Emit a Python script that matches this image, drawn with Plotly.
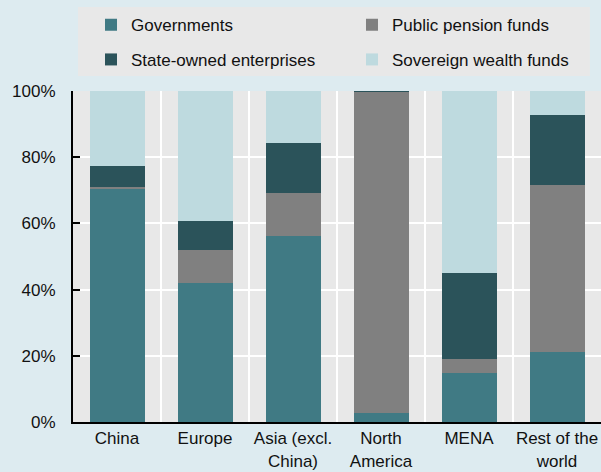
import plotly.graph_objects as go

regions = ["China", "Europe", "Asia (excl.<br>China)", "North<br>America", "MENA", "Rest of the<br>world"]
governments = [70.3, 41.9, 56.3, 2.6, 14.9, 21.2]
public_pension = [0.7, 10.1, 12.9, 97.1, 4.1, 50.4]
state_owned = [6.2, 8.7, 15.2, 0.3, 26.1, 21.2]
sovereign_wealth = [22.8, 39.3, 15.6, 0.0, 54.9, 7.2]
y_ticks = [0, 20, 40, 60, 80, 100]

x_pos = list(range(len(regions)))
font = "Liberation Sans, Arial, sans-serif"

fig = go.Figure()
fig.add_trace(go.Bar(x=x_pos, y=governments, name="Governments", marker_color="#407A84", legend="legend"))
fig.add_trace(go.Bar(x=x_pos, y=public_pension, name="Public pension funds", marker_color="#808080", legend="legend2"))
fig.add_trace(go.Bar(x=x_pos, y=state_owned, name="State-owned enterprises", marker_color="#2B535A", legend="legend3"))
fig.add_trace(go.Bar(x=x_pos, y=sovereign_wealth, name="Sovereign wealth funds", marker_color="#BEDADF", legend="legend4"))
fig.update_traces(marker_line_width=0, showlegend=True)

def leg(x, y):
    return dict(x=x, y=y, xanchor="left", yanchor="middle",
                bgcolor="rgba(0,0,0,0)", font=dict(family=font, size=17, color="#111"))

# white separators between categories
seps = [dict(type="line", xref="x", yref="paper", x0=i + 0.5, x1=i + 0.5, y0=0, y1=1,
             line=dict(color="white", width=2), layer="below") for i in range(len(regions) - 1)]

fig.update_layout(
    template="none",
    showlegend=True,
    barmode="stack",
    bargap=0.375,
    width=601, height=472,
    margin=dict(l=73, r=0, t=91, b=50),
    paper_bgcolor="#DDEBF0",
    plot_bgcolor="#E8E8E8",
    font=dict(family=font, size=17, color="#111"),
    legend=leg(0.0341, 1.199),
    legend2=leg(0.5284, 1.199),
    legend3=leg(0.0341, 1.094),
    legend4=leg(0.5284, 1.094),
    shapes=[dict(type="rect", xref="paper", yref="paper", x0=0.0095, x1=0.979, y0=1.045, y1=1.254,
                 fillcolor="#E8E8E8", line_width=0, layer="below")] + seps,
    xaxis=dict(range=[-0.5, 5.5], tickvals=x_pos, ticktext=regions, showgrid=False,
               showline=True, linecolor="#000000", linewidth=2, ticks="", zeroline=False),
    yaxis=dict(range=[0, 100], tickvals=y_ticks, ticktext=[f"{v}%" for v in y_ticks],
               showgrid=True, gridcolor="white", gridwidth=2,
               showline=True, linecolor="#000000", linewidth=2, ticks="inside", ticklen=7, tickwidth=2,
               tickcolor="#000000", zeroline=False, ticklabelstandoff=12),
)

fig.write_html("out.html", config={"displayModeBar": False},
               post_script="document.body.style.margin='0';")
